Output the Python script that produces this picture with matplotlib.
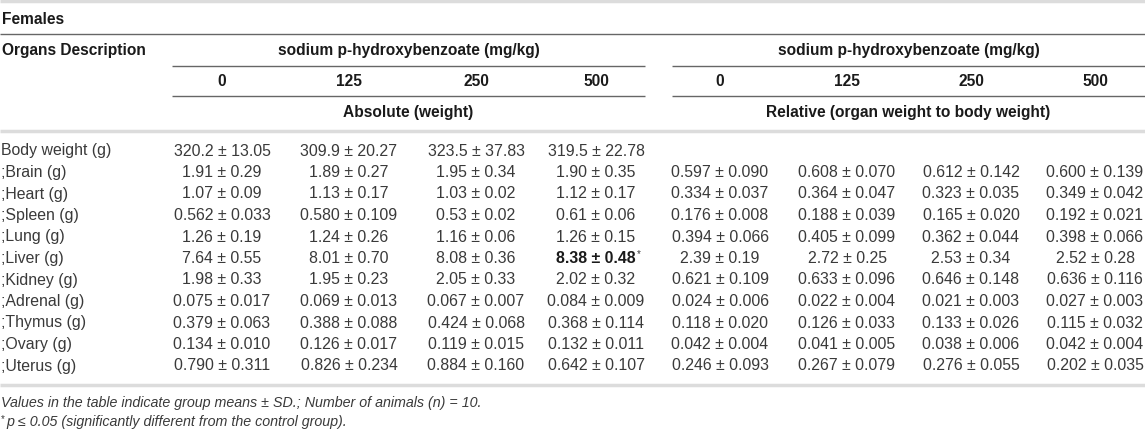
import matplotlib
matplotlib.use("Agg")
import matplotlib.pyplot as plt

plt.rcParams['font.family'] = ['Liberation Sans', 'DejaVu Sans']

# table content
organs = ["Body weight (g)", ";Brain (g)", ";Heart (g)", ";Spleen (g)", ";Lung (g)",
          ";Liver (g)", ";Kidney (g)", ";Adrenal (g)", ";Thymus (g)", ";Ovary (g)",
          ";Uterus (g)"]
doses = ["0", "125", "250", "500"]

abs_mean = [
    ["320.2", "309.9", "323.5", "319.5"],
    ["1.91", "1.89", "1.95", "1.90"],
    ["1.07", "1.13", "1.03", "1.12"],
    ["0.562", "0.580", "0.53", "0.61"],
    ["1.26", "1.24", "1.16", "1.26"],
    ["7.64", "8.01", "8.08", "8.38"],
    ["1.98", "1.95", "2.05", "2.02"],
    ["0.075", "0.069", "0.067", "0.084"],
    ["0.379", "0.388", "0.424", "0.368"],
    ["0.134", "0.126", "0.119", "0.132"],
    ["0.790", "0.826", "0.884", "0.642"],
]
abs_sd = [
    ["13.05", "20.27", "37.83", "22.78"],
    ["0.29", "0.27", "0.34", "0.35"],
    ["0.09", "0.17", "0.02", "0.17"],
    ["0.033", "0.109", "0.02", "0.06"],
    ["0.19", "0.26", "0.06", "0.15"],
    ["0.55", "0.70", "0.36", "0.48"],
    ["0.33", "0.23", "0.33", "0.32"],
    ["0.017", "0.013", "0.007", "0.009"],
    ["0.063", "0.088", "0.068", "0.114"],
    ["0.010", "0.017", "0.015", "0.011"],
    ["0.311", "0.234", "0.160", "0.107"],
]
rel_mean = [
    None,
    ["0.597", "0.608", "0.612", "0.600"],
    ["0.334", "0.364", "0.323", "0.349"],
    ["0.176", "0.188", "0.165", "0.192"],
    ["0.394", "0.405", "0.362", "0.398"],
    ["2.39", "2.72", "2.53", "2.52"],
    ["0.621", "0.633", "0.646", "0.636"],
    ["0.024", "0.022", "0.021", "0.027"],
    ["0.118", "0.126", "0.133", "0.115"],
    ["0.042", "0.041", "0.038", "0.042"],
    ["0.246", "0.267", "0.276", "0.202"],
]
rel_sd = [
    None,
    ["0.090", "0.070", "0.142", "0.139"],
    ["0.037", "0.047", "0.035", "0.042"],
    ["0.008", "0.039", "0.020", "0.021"],
    ["0.066", "0.099", "0.044", "0.066"],
    ["0.19", "0.25", "0.34", "0.28"],
    ["0.109", "0.096", "0.148", "0.116"],
    ["0.006", "0.004", "0.003", "0.003"],
    ["0.020", "0.033", "0.026", "0.032"],
    ["0.004", "0.005", "0.006", "0.004"],
    ["0.093", "0.079", "0.055", "0.035"],
]
# significant cells (row, col) in the absolute block
signif = [(5, 3)]

W, H = 1145, 430
fig = plt.figure(figsize=(W / 100, H / 100), dpi=100)
ax = fig.add_axes([0, 0, 1, 1])
ax.set_xlim(0, W)
ax.set_ylim(H, 0)
ax.axis("off")

fs_h = 11.2   # headers
fs = 11.4     # body
fs_n = 10.3   # footnotes
hdr = "#1a1a1a"
txt = "#3a3a3a"
dark = "#666666"
light = "#dcdcdc"

abs_x = [222, 349, 476, 596]
rel_x = [720, 847, 971, 1095]
g1 = (172, 645)
g2 = (672, 1145)

# rules
ax.hlines(1, 0, W, color=light, lw=2.5)
ax.hlines(34, 0, W, color=dark, lw=1)
for y in (66, 96):
    ax.hlines(y, g1[0], g1[1], color=dark, lw=1)
    ax.hlines(y, g2[0], g2[1], color=dark, lw=1)
ax.hlines(131, 0, W, color=light, lw=2.5)
ax.hlines(385, 0, W, color=light, lw=2.5)

# header
ax.text(2, 20, "Females", fontsize=fs_h, fontweight="bold", color=hdr, va="center")
ax.text(2, 51, "Organs Description", fontsize=fs_h, fontweight="bold", color=hdr, va="center")
for g in (g1, g2):
    ax.text((g[0] + g[1]) / 2, 51, "sodium p-hydroxybenzoate (mg/kg)", fontsize=fs_h,
            fontweight="bold", color=hdr, ha="center", va="center")
for xs in (abs_x, rel_x):
    for x, d in zip(xs, doses):
        ax.text(x, 81, d, fontsize=fs_h, fontweight="bold", color=hdr, ha="center", va="center")
ax.text(sum(g1) / 2, 112, "Absolute (weight)", fontsize=fs_h, fontweight="bold",
        color=hdr, ha="center", va="center")
ax.text(sum(g2) / 2, 112, "Relative (organ weight to body weight)", fontsize=fs_h,
        fontweight="bold", color=hdr, ha="center", va="center")

# body rows
y0, dy = 151, 21.5
fig.canvas.draw()
rend = fig.canvas.get_renderer()
for i, name in enumerate(organs):
    y = y0 + i * dy
    ax.text(1, y, name, fontsize=fs, color=txt, va="center")
    for j in range(4):
        s = f"{abs_mean[i][j]} ± {abs_sd[i][j]}"
        if (i, j) in signif:
            t = ax.text(abs_x[j], y, s, fontsize=fs, fontweight="bold", color=hdr,
                        ha="center", va="center")
            bb = t.get_window_extent(rend)
            xr = ax.transData.inverted().transform((bb.x1, 0))[0]
            ax.text(xr + 1, y - 4, "*", fontsize=7, color=txt, ha="left", va="center")
        else:
            ax.text(abs_x[j], y, s, fontsize=fs, color=txt, ha="center", va="center")
        if rel_mean[i] is not None:
            ax.text(rel_x[j], y, f"{rel_mean[i][j]} ± {rel_sd[i][j]}", fontsize=fs,
                    color=txt, ha="center", va="center")

# footnotes
ax.text(1, 403, "Values in the table indicate group means ± SD.; Number of animals (n) = 10.",
        fontsize=fs_n, style="italic", color=txt, va="center")
ax.text(1, 419, "*", fontsize=7, color=txt, va="center")
ax.text(6, 422, "p ≤ 0.05 (significantly different from the control group).",
        fontsize=fs_n, style="italic", color=txt, va="center")

fig.savefig("out.png", dpi=100)
